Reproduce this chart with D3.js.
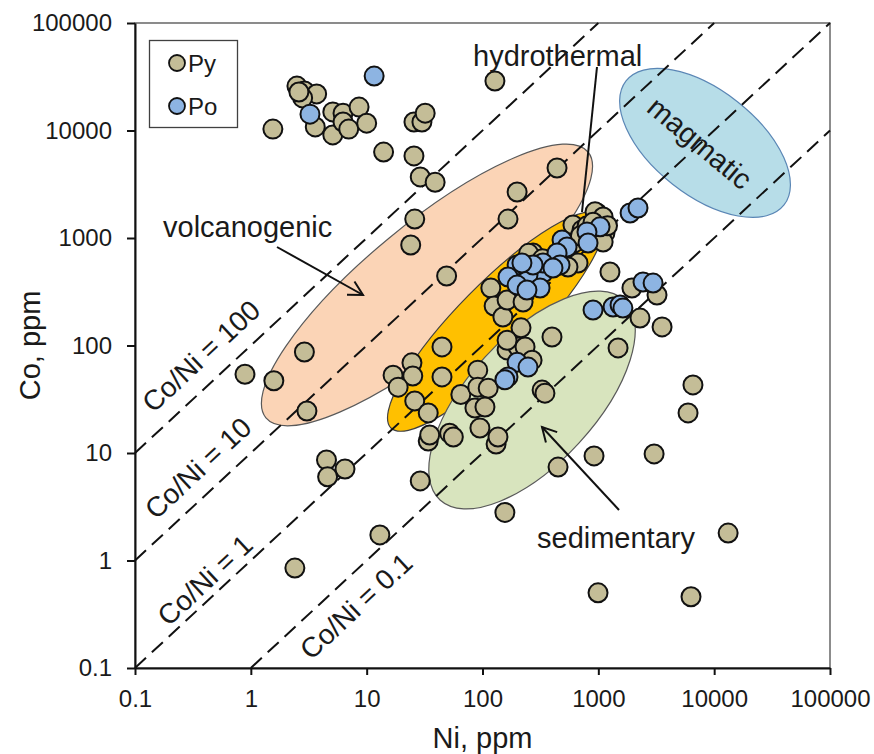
<!DOCTYPE html>
<html>
<head>
<meta charset="utf-8">
<script src="https://cdn.jsdelivr.net/npm/d3@7"></script>
<style>
  body { margin: 0; background: #fff; }
  svg text { font-family: "Liberation Sans", Arial, sans-serif; fill: #1a1a1a; }
</style>
</head>
<body>
<svg id="chart" width="874" height="754"></svg>
<script>
// Axis ticks (both axes share the same logarithmic range)
const tickValues = [0.1, 1, 10, 100, 1000, 10000, 100000];
const tickLabels = ["0.1", "1", "10", "100", "1000", "10000", "100000"];

// Reference Co/Ni ratio lines
const ratios = [100, 10, 1, 0.1];
const ratioLabels = ["Co/Ni = 100", "Co/Ni = 10", "Co/Ni = 1", "Co/Ni = 0.1"];

// Pyrite analyses [Ni ppm, Co ppm]
const pyrite = [
  [1.55, 10300], [2.5, 25900], [2.9, 23300], [3.7, 21900], [2.8, 20100], [2.6, 22800],
  [5.1, 14900], [6.25, 14500], [8.6, 16500], [3.6, 10800], [5.1, 9100], [6.25, 12000],
  [7.0, 10300], [10, 11700], [14, 6300], [25.6, 12000], [30, 12000], [32, 14500],
  [25.6, 5800], [29, 3700], [39, 3300], [26, 1500], [24, 860], [128, 28900],
  [440, 4480], [199, 2680], [166, 1500], [49, 443], [2.9, 87], [0.89, 54],
  [1.58, 47], [3.05, 24.6], [4.5, 8.6], [6.5, 7.1], [4.6, 6.0], [29, 5.5],
  [13, 1.73], [2.4, 0.85], [24.6, 69], [16.9, 53], [25, 52], [18.7, 41],
  [26, 30.5], [34, 23.6], [34, 12.9], [44.7, 97], [44.7, 51], [65, 35],
  [91, 59], [91, 41], [112, 40], [86, 26.2], [105, 26.8], [95, 17.1],
  [52, 15.3], [35, 14.7], [56, 14.1], [131, 12.1], [163, 91], [203, 97],
  [233, 97], [215, 146], [163, 112], [268, 73], [398, 120], [327, 38.5],
  [346, 36], [136, 14.1], [118, 343], [126, 233], [150, 184], [163, 265],
  [224, 254], [273, 725], [1260, 483], [1950, 343], [3210, 295], [2290, 180],
  [3550, 149], [1480, 95], [6560, 43], [5950, 23.6], [604, 1320], [723, 1190],
  [975, 1710], [1035, 1320], [1140, 1110], [1100, 918], [668, 585], [547, 537],
  [936, 1750], [1100, 1570], [449, 7.4], [918, 9.4], [3030, 9.8], [156, 2.8],
  [13200, 1.8], [994, 0.50], [6310, 0.46], [250, 720], [330, 640], [300, 560],
  [620, 900], [800, 1300], [700, 1050], [900, 1400], [1200, 1300]
];

// Pyrrhotite analyses [Ni ppm, Co ppm]
const pyrrhotite = [
  [11.6, 32100], [3.24, 14200], [1880, 1710], [2200, 1900], [1035, 1270], [798, 1140],
  [815, 898], [486, 958], [537, 825], [440, 725], [467, 561], [333, 473],
  [247, 453], [199, 561], [166, 434], [199, 365], [314, 343], [242, 328],
  [333, 585], [406, 526], [273, 561], [219, 585], [2430, 390], [2970, 381],
  [900, 214], [1340, 228], [1540, 238], [1630, 223], [199, 70], [247, 63],
  [166, 51], [156, 48]
];

// Genetic fields: long-axis end points [Ni, Co] and half-width in decades
const fieldNames = ["volcanogenic", "hydrothermal", "sedimentary", "magmatic"];
const fieldTips = [
  [[1.35, 21.2], [815, 6310]],
  [[16.2, 17.1], [1055, 1637]],
  [[43, 3.65], [1667, 265]],
  [[1734, 28900], [40100, 2030]]
];
const fieldHalfWidths = [0.54, 0.34, 0.57, 0.47];

const fieldStyle = {
  volcanogenic: { fill: "#FBD4B6", stroke: "#595959" },
  hydrothermal: { fill: "#FFC000", stroke: "#404040" },
  sedimentary:  { fill: "#D8E4BE", stroke: "#595959" },
  magmatic:     { fill: "#B7DDE8", stroke: "#5A86B5" }
};

const svg = d3.select("#chart");
const plotL = 135, plotR = 830, plotT = 23, plotB = 668;

const x = d3.scaleLog().domain([0.1, 100000]).range([plotL, plotR]);
const y = d3.scaleLog().domain([0.1, 100000]).range([plotB, plotT]);
const pxPerDecade = ((x(10) - x(1)) + (y(1) - y(10))) / 2;

// plot frame
svg.append("rect")
  .attr("x", plotL).attr("y", plotT)
  .attr("width", plotR - plotL).attr("height", plotB - plotT)
  .attr("fill", "none").attr("stroke", "#404040").attr("stroke-width", 1.2);

// genetic fields as rotated ellipses
const fieldLayer = svg.append("g");
fieldNames.forEach((name, i) => {
  const [a, b] = fieldTips[i];
  const x1 = x(a[0]), y1 = y(a[1]), x2 = x(b[0]), y2 = y(b[1]);
  const cx = (x1 + x2) / 2, cy = (y1 + y2) / 2;
  const rx = Math.hypot(x2 - x1, y2 - y1) / 2;
  const ry = fieldHalfWidths[i] * pxPerDecade;
  const ang = Math.atan2(y2 - y1, x2 - x1) * 180 / Math.PI;
  fieldLayer.append("ellipse")
    .attr("cx", 0).attr("cy", 0).attr("rx", rx).attr("ry", ry)
    .attr("transform", `translate(${cx},${cy}) rotate(${ang})`)
    .attr("fill", fieldStyle[name].fill)
    .attr("stroke", fieldStyle[name].stroke)
    .attr("stroke-width", 1.2);
});

// Co/Ni ratio lines
const line = d3.line().x(d => x(d[0])).y(d => y(d[1]));
ratios.forEach(r => {
  const n0 = Math.max(0.1, 0.1 / r), n1 = Math.min(100000, 100000 / r);
  svg.append("path")
    .attr("d", line([[n0, n0 * r], [n1, n1 * r]]))
    .attr("fill", "none").attr("stroke", "#111")
    .attr("stroke-width", 2).attr("stroke-dasharray", "15,8");
});

const slopeAngle = -Math.atan((y(1) - y(10)) / (x(10) - x(1))) * 180 / Math.PI;
const ratioLabelPos = [[201, 356], [198, 468], [205, 580], [356, 606]];
ratioLabels.forEach((t, i) => {
  svg.append("text")
    .attr("transform", `translate(${ratioLabelPos[i][0]},${ratioLabelPos[i][1]}) rotate(${slopeAngle})`)
    .attr("text-anchor", "middle").attr("dy", "0.35em")
    .attr("font-size", 28).text(t);
});

// axes
function styleAxis(g) {
  g.attr("font-family", null).attr("font-size", null);
  g.select(".domain").attr("stroke", "#111").attr("stroke-width", 2);
  g.selectAll(".tick line").attr("stroke", "#111").attr("stroke-width", 2);
  g.selectAll(".tick text").attr("font-size", 24).attr("fill", "#1a1a1a");
}
svg.append("g")
  .attr("transform", `translate(0,${plotB})`)
  .call(d3.axisBottom(x).tickValues(tickValues).tickFormat((d, i) => tickLabels[i])
    .tickSize(7).tickSizeOuter(0).tickPadding(15))
  .call(styleAxis);
svg.append("g")
  .attr("transform", `translate(${plotL},0)`)
  .call(d3.axisLeft(y).tickValues(tickValues).tickFormat((d, i) => tickLabels[i])
    .tickSize(8).tickSizeOuter(0).tickPadding(15))
  .call(styleAxis);

svg.append("text").attr("x", (plotL + plotR) / 2).attr("y", 748)
  .attr("text-anchor", "middle").attr("font-size", 29).text("Ni, ppm");
svg.append("text").attr("transform", `translate(40,${(plotT + plotB) / 2}) rotate(-90)`)
  .attr("text-anchor", "middle").attr("font-size", 29).text("Co, ppm");

// data points
const dots = svg.append("g");
dots.selectAll("circle.py").data(pyrite).join("circle")
  .attr("class", "py")
  .attr("cx", d => x(d[0])).attr("cy", d => y(d[1])).attr("r", 9.5)
  .attr("fill", "#C4BD97").attr("stroke", "#111").attr("stroke-width", 2);
dots.selectAll("circle.po").data(pyrrhotite).join("circle")
  .attr("class", "po")
  .attr("cx", d => x(d[0])).attr("cy", d => y(d[1])).attr("r", 9.5)
  .attr("fill", "#8DB4E2").attr("stroke", "#111").attr("stroke-width", 2);

// annotation arrows with open heads
function arrow(x1, y1, x2, y2) {
  const ang = Math.atan2(y2 - y1, x2 - x1);
  const len = 16, spread = 0.5;
  svg.append("line").attr("x1", x1).attr("y1", y1).attr("x2", x2).attr("y2", y2)
    .attr("stroke", "#111").attr("stroke-width", 2);
  svg.append("path")
    .attr("d", `M${x2 - len * Math.cos(ang - spread)},${y2 - len * Math.sin(ang - spread)} L${x2},${y2} L${x2 - len * Math.cos(ang + spread)},${y2 - len * Math.sin(ang + spread)}`)
    .attr("fill", "none").attr("stroke", "#111").attr("stroke-width", 2);
}

svg.append("text").attr("x", 163).attr("y", 237).attr("font-size", 29).text("volcanogenic");
arrow(277, 247, 363, 295);

svg.append("text").attr("x", 473).attr("y", 66).attr("font-size", 29).text("hydrothermal");
svg.append("line").attr("x1", 597).attr("y1", 67).attr("x2", 582).attr("y2", 212)
  .attr("stroke", "#111").attr("stroke-width", 2);

svg.append("text").attr("x", 537).attr("y", 548).attr("font-size", 29).text("sedimentary");
arrow(619, 510, 542, 427);

svg.append("text").attr("transform", "translate(700,143) rotate(40)")
  .attr("text-anchor", "middle").attr("dy", "0.35em").attr("font-size", 29).text("magmatic");

// legend
const legend = svg.append("g");
legend.append("rect").attr("x", 149.5).attr("y", 40.5).attr("width", 88).attr("height", 87)
  .attr("fill", "#fff").attr("stroke", "#404040").attr("stroke-width", 1.3);
[["Py", "#C4BD97", 63], ["Po", "#8DB4E2", 106]].forEach(([label, color, cy]) => {
  legend.append("circle").attr("cx", 177).attr("cy", cy).attr("r", 8)
    .attr("fill", color).attr("stroke", "#111").attr("stroke-width", 1.8);
  legend.append("text").attr("x", 188).attr("y", cy).attr("dy", "0.36em")
    .attr("font-size", 24).text(label);
});
</script>
</body>
</html>
